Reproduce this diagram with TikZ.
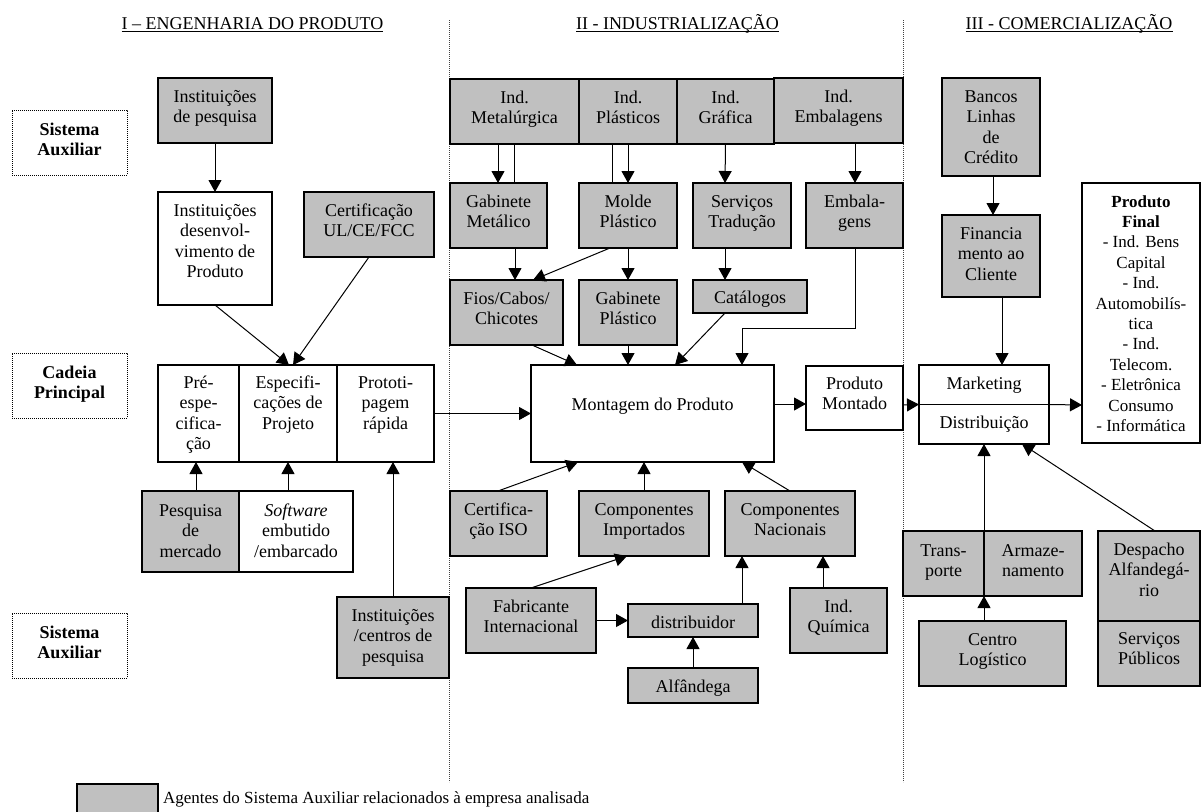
\documentclass[tikz,border=0pt]{standalone}
\usepackage{fontspec}
\setmainfont{Liberation Serif}
\usetikzlibrary{arrows.meta}
\definecolor{agente}{RGB}{192,192,192}

\tikzset{
  box/.style={draw=black, line width=1.1pt, rectangle, inner sep=0pt, outer sep=0pt},
  gbox/.style={box, fill=agente},
  wbox/.style={box, fill=white},
  lbox/.style={draw=black, line width=0.6pt, dash pattern=on 0.9pt off 1.1pt,
               rectangle, inner sep=0pt, outer sep=0pt},
  txt/.style={inner sep=0pt, outer sep=0pt, align=center,
              font=\fontsize{18}{20.6}\selectfont},
  boldtxt/.style={font=\fontsize{18}{20.6}\selectfont\bfseries},
  smalltxt/.style={font=\fontsize{17}{20.4}\selectfont},
  arr/.style={draw, line width=1pt, -{Triangle[width=13pt,length=12pt]}},
  ln/.style={draw, line width=1pt},
  divider/.style={draw=black!75, line width=0.6pt, dash pattern=on 0.7pt off 1.3pt},
}

% box from its corners: style, name, x1, y1, x2, y2
\newcommand\mkbox[6]{%
  \node[#1, minimum width={#5-#3}, minimum height={#6-#4}] (#2)
    at ({(#3+#5)/2},{(#4+#6)/2}) {};}
% text in a box: [baseline below top], extra options, box name, text
\newcommand\mktext[4][24]{%
  \node[txt, anchor=north, #2] at ([yshift={14-#1}]#3.north) {\rule{0pt}{14pt}#4};}

\begin{document}
\begin{tikzpicture}[x=1pt, y=-1pt]
\useasboundingbox (0,0) rectangle (1201,811);

% column headings
\node[txt, anchor=base] (h1) at (252.5,29) {I \textendash{} ENGENHARIA DO PRODUTO};
\node[txt, anchor=base] (h2) at (677.5,29) {II - INDUSTRIALIZAÇÃO};
\node[txt, anchor=base] (h3) at (1069,29) {III - COMERCIALIZAÇÃO};
\foreach \h in {h1,h2,h3}
  \draw[line width=0.9pt] ([yshift=-2.5]\h.base west) -- ([yshift=-2.5]\h.base east);

% column dividers
\draw[divider] (449,20) -- (449,782);
\draw[divider] (903,20) -- (903,782);

% row labels
\mkbox{lbox}{lab1}{12}{110}{127}{175}
\mktext[25]{boldtxt}{lab1}{Sistema\\Auxiliar}
\mkbox{lbox}{lab2}{12}{353}{127}{418}
\mktext[25]{boldtxt}{lab2}{Cadeia\\Principal}
\mkbox{lbox}{lab3}{12}{613}{127}{678}
\mktext[25]{boldtxt}{lab3}{Sistema\\Auxiliar}

% I - product engineering
\mkbox{gbox}{instp}{158}{78}{272}{143}
\mktext{}{instp}{Instituições\\de pesquisa}
\mkbox{wbox}{instd}{158}{192}{272}{305}
\mktext{}{instd}{Instituições\\desenvol-\\vimento de\\Produto}
\mkbox{gbox}{cert}{304}{192}{434}{257}
\mktext{}{cert}{Certificação\\UL/CE/FCC}
\mkbox{wbox}{pre}{158}{365}{239}{462}
\mktext[23]{}{pre}{Pré-\\espe-\\cifica-\\ção}
\mkbox{wbox}{espec}{239}{365}{337}{462}
\mktext[23]{}{espec}{Especifi-\\cações de\\Projeto}
\mkbox{wbox}{proto}{337}{365}{434}{462}
\mktext[23]{}{proto}{Prototi-\\pagem\\rápida}
\mkbox{gbox}{pesq}{142}{491}{239}{572}
\mktext[25]{}{pesq}{Pesquisa\\de\\mercado}
\mkbox{wbox}{soft}{239}{491}{353}{572}
\mktext[25]{}{soft}{\textit{Software}\\embutido\\/embarcado}
\mkbox{gbox}{instc}{337}{597}{449}{678}
\mktext{}{instc}{Instituições\\/centros de\\pesquisa}

% II - industrialisation
\mkbox{gbox}{imet}{450}{79}{579}{144}
\mktext{}{imet}{Ind.\\Metalúrgica}
\mkbox{gbox}{ipla}{579}{79}{677}{144}
\mktext{}{ipla}{Ind.\\Plásticos}
\mkbox{gbox}{igra}{677}{79}{774}{144}
\mktext{}{igra}{Ind.\\Gráfica}
\mkbox{gbox}{iemb}{774}{78}{903}{143}
\mktext{}{iemb}{Ind.\\Embalagens}
\mkbox{gbox}{gmet}{450}{183}{547}{248}
\mktext{}{gmet}{Gabinete\\Metálico}
\mkbox{gbox}{molde}{579}{183}{677}{248}
\mktext{}{molde}{Molde\\Plástico}
\mkbox{gbox}{serv}{693}{183}{791}{248}
\mktext{}{serv}{Serviços\\Tradução}
\mkbox{gbox}{emb}{806}{183}{903}{248}
\mktext{}{emb}{Embala-\\gens}
\mkbox{gbox}{fios}{450}{280}{563}{345}
\mktext{}{fios}{Fios/Cabos/\\Chicotes}
\mkbox{gbox}{gpla}{579}{280}{677}{345}
\mktext{}{gpla}{Gabinete\\Plástico}
\mkbox{gbox}{cat}{693}{280}{807}{313}
\mktext[23]{}{cat}{Catálogos}
\mkbox{wbox}{mont}{531}{365}{774}{462}
\mktext[45]{}{mont}{Montagem do Produto}
\mkbox{wbox}{pmont}{806}{366}{903}{430}
\mktext[23]{}{pmont}{Produto\\Montado}
\mkbox{gbox}{ciso}{450}{491}{547}{556}
\mktext{}{ciso}{Certifica-\\ção ISO}
\mkbox{gbox}{cimp}{579}{491}{709}{556}
\mktext{}{cimp}{Componentes\\Importados}
\mkbox{gbox}{cnac}{725}{491}{855}{556}
\mktext{}{cnac}{Componentes\\Nacionais}
\mkbox{gbox}{fab}{466}{588}{596}{653}
\mktext{}{fab}{Fabricante\\Internacional}
\mkbox{gbox}{dist}{628}{604}{758}{637}
\mktext{}{dist}{distribuidor}
\mkbox{gbox}{quim}{790}{588}{887}{653}
\mktext{}{quim}{Ind.\\Química}
\mkbox{gbox}{alf}{628}{668}{758}{703}
\mktext{}{alf}{Alfândega}

% III - commercialisation
\mkbox{gbox}{banc}{942}{78}{1040}{176}
\mktext{}{banc}{Bancos\\Linhas\\de\\Crédito}
\mkbox{gbox}{fin}{942}{215}{1040}{297}
\mktext{}{fin}{Financia\\mento ao\\Cliente}
\mkbox{wbox}{pfin}{1082}{183}{1200}{443}
\mktext{smalltxt}{pfin}{\textbf{Produto}\\\textbf{Final}\\- Ind. Bens\\Capital\\- Ind.\\Automobilís-\\tica\\- Ind.\\Telecom.\\- Eletrônica\\Consumo\\- Informática}
\mkbox{wbox}{mkt}{919}{365}{1049}{444}
\draw[line width=1.1pt] (mkt.west) -- (mkt.east);
\mktext{}{mkt}{Marketing}
\mktext[63]{}{mkt}{Distribuição}
\mkbox{gbox}{trans}{903}{531}{1082}{596}
\draw[line width=1.1pt] ([xshift=81]trans.north west) -- ([xshift=81]trans.south west);
\mktext[25]{xshift=-49}{trans}{Trans-\\porte}
\mktext[25]{xshift=40.5}{trans}{Armaze-\\namento}
\mkbox{gbox}{desp}{1098}{531}{1200}{621}
\mktext{}{desp}{Despacho\\Alfandegá-\\rio}
\mkbox{gbox}{spub}{1098}{621}{1200}{686}
\mktext[23]{}{spub}{Serviços\\Públicos}
\mkbox{gbox}{cent}{919}{621}{1066}{686}
\mktext{}{cent}{Centro\\Logístico}

% connectors - I
\draw[arr] (instp.south) -- (instd.north);
\draw[arr] (instd.south) -- ([xshift=1]espec.north);
\draw[arr] (cert.south) -- ([xshift=5]espec.north);
\draw[arr] ([xshift=54]pesq.north west) -- ([xshift=38]pre.south west);
\draw[arr] ([xshift=49]soft.north west) -- (espec.south);
\draw[arr] (instc.north) -- ([xshift=56]proto.south west);
\draw[arr] (proto.east) -- (mont.west);

% connectors - II
\draw[arr] ([xshift=48]imet.south west) -- ([xshift=48]gmet.north west);
\draw[ln]  ([xshift=64]imet.south west) -- ([xshift=64]gmet.north west);
\draw[ln]  ([xshift=33]ipla.south west) -- ([xshift=33]molde.north west);
\draw[arr] (ipla.south) -- (molde.north);
\draw[arr] (igra.south) -- ([xshift=32]serv.north west);
\draw[arr] ([xshift=81]iemb.south west) -- ([xshift=49]emb.north west);
\draw[arr] ([xshift=65]gmet.south west) -- ([xshift=65]fios.north west);
\draw[arr] ([xshift=31]molde.south west) -- ([xshift=83]fios.north west);
\draw[arr] (molde.south) -- (gpla.north);
\draw[arr] ([xshift=32]serv.south west) -- ([xshift=32]cat.north west);
\draw[arr] ([xshift=49]emb.south west) -- ++(0,80) -| ([xshift=211]mont.north west);
\draw[arr] ([xshift=82]fios.south west) -- ([xshift=46]mont.north west);
\draw[arr] (gpla.south) -- ([xshift=97]mont.north west);
\draw[arr] ([xshift=32]cat.south west) -- ([xshift=144]mont.north west);
\draw[arr] ([yshift=9.5]mont.east) -- ([yshift=-6]pmont.west);
\draw[arr] ([xshift=48]ciso.north west) -- ([xshift=47]mont.south west);
\draw[arr] (cimp.north) -- ([xshift=113]mont.south west);
\draw[arr] (cnac.north) -- ([xshift=211]mont.south west);
\draw[arr] (fab.north) -- ([xshift=48]cimp.south west);
\draw[arr] (fab.east) -- (dist.west);
\draw[arr] ([xshift=114]dist.north west) -- ([xshift=17]cnac.south west);
\draw[arr] ([xshift=33]quim.north west) -- ([xshift=98]cnac.south west);
\draw[arr] (alf.north) -- (dist.south);

% connectors - III
\draw[arr] ([xshift=51]banc.south west) -- ([xshift=51]fin.north west);
\draw[arr] ([xshift=60]fin.south west) -- ([xshift=83]mkt.north west);
\draw[arr] ([yshift=-7]pmont.east) -- (mkt.west);
\draw[arr] (mkt.east) -- ([yshift=-92]pfin.west);
\draw[arr] ([xshift=65]cent.north west) -- ([xshift=81]trans.south west);
\draw[arr] ([xshift=81]trans.north west) -- ([xshift=65]mkt.south west);
\draw[arr] ([xshift=57]desp.north west) -- ([xshift=103]mkt.south west);

% legend
\mkbox{gbox}{leg}{77}{784}{158}{813}
\node[txt, anchor=base west, font=\fontsize{17}{20}\selectfont] (legtxt) at (163,803)
  {Agentes do Sistema Auxiliar relacionados à empresa analisada};
\end{tikzpicture}
\end{document}
